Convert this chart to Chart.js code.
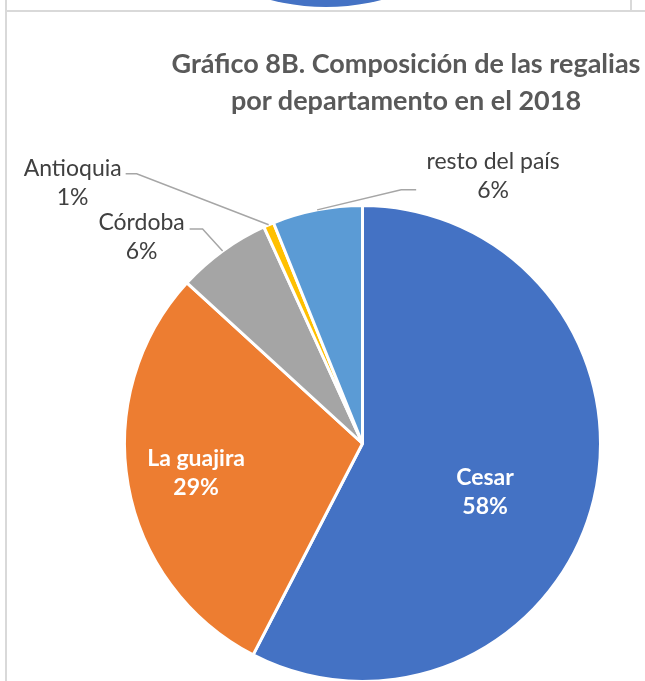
<!DOCTYPE html>
<html>
<head>
<meta charset="utf-8">
<script src="https://cdn.jsdelivr.net/npm/chart.js@4.4.0/dist/chart.umd.min.js"></script>
<style>
    html, body { margin: 0; padding: 0; background: #fff; overflow: hidden; }
    #wrap { position: relative; width: 645px; height: 681px; overflow: hidden; background: #fff; }
    #prevBox { position: absolute; left: 7px; top: 0; width: 623px; height: 10px; overflow: hidden; }
    #prevPie { position: absolute; left: 97px; top: -437px; width: 444px; height: 444px; border-radius: 50%; background: #4472c4; }
    #prevRight { position: absolute; left: 630px; top: 0; width: 2px; height: 11px; background: #d9d9d9; }
    #lineLeft { position: absolute; left: 5px; top: 0; width: 2px; height: 681px; background: #d9d9d9; }
    #lineTop { position: absolute; left: 5px; top: 10px; width: 640px; height: 2px; background: #d9d9d9; }
    #chart { position: absolute; left: 0; top: 0; }
    #title {
        position: absolute; left: 0; top: 44px; width: 812px; text-align: center;
        font-family: Lato, "Open Sans", sans-serif; font-weight: bold; font-size: 27px;
        line-height: 37px; color: #595959; white-space: nowrap;
    }
</style>
</head>
<body>
<div id="wrap">
    <div id="prevBox"><div id="prevPie"></div></div>
    <div id="prevRight"></div>
    <div id="lineLeft"></div>
    <div id="lineTop"></div>
    <canvas id="chart" width="645" height="700"></canvas>
    <div id="title">Gráfico 8B. Composición de las regalias<br>por departamento en el 2018</div>
</div>
<script>
// composición de las regalias 2018, % por departamento
const departamentos = ["Cesar", "La guajira", "Córdoba", "Antioquia", "resto del país"];
const participacion = [57.6, 29.2, 6.4, 0.7, 6.1];
const colores = ["#4472c4", "#ed7d31", "#a5a5a5", "#ffc000", "#5b9bd5"];

// where each label goes, relative to its slice
const labelSetup = [
    { inside: true, r: 0.53, dy: 19 },
    { inside: true, r: 0.71, dy: 0 },
    { inside: false, text: [-81, -14], elbow: [-20, -22], tail: -13 },
    { inside: false, text: [-196, -42], elbow: [-132, -51], tail: -11 },
    { inside: false, text: [176, -34], elbow: [84, -20], tail: 15 },
];

const total = participacion.reduce((a, b) => a + b, 0);

const sliceLabels = {
    id: "sliceLabels",
    afterDatasetsDraw(chart) {
        const ctx = chart.ctx;
        const arcs = chart.getDatasetMeta(0).data;
        ctx.save();
        ctx.textAlign = "center";
        ctx.textBaseline = "middle";
        arcs.forEach((arc, i) => {
            const p = arc.getProps(["x", "y", "startAngle", "endAngle", "outerRadius"], true);
            const mid = (p.startAngle + p.endAngle) / 2;
            const cfg = labelSetup[i];
            const lines = [departamentos[i], Math.round(participacion[i] / total * 100) + "%"];
            let cx, cy;
            if (cfg.inside) {
                cx = p.x + Math.cos(mid) * p.outerRadius * cfg.r;
                cy = p.y + Math.sin(mid) * p.outerRadius * cfg.r + cfg.dy;
                ctx.fillStyle = "#ffffff";
                ctx.font = "bold 23px Lato, 'Open Sans', sans-serif";
            } else {
                const ex = p.x + Math.cos(mid) * p.outerRadius;
                const ey = p.y + Math.sin(mid) * p.outerRadius;
                const bx = ex + cfg.elbow[0];
                const by = ey + cfg.elbow[1];
                ctx.strokeStyle = "#a6a6a6";
                ctx.lineWidth = 1.5;
                ctx.beginPath();
                ctx.moveTo(ex, ey);
                ctx.lineTo(bx, by);
                ctx.lineTo(bx + cfg.tail, by);
                ctx.stroke();
                cx = ex + cfg.text[0];
                cy = ey + cfg.text[1];
                ctx.fillStyle = "#404040";
                ctx.font = "23px Lato, 'Open Sans', sans-serif";
            }
            ctx.fillText(lines[0], cx, cy - 14.5);
            ctx.fillText(lines[1], cx, cy + 14.5);
        });
        ctx.restore();
    }
};

new Chart(document.getElementById("chart"), {
    type: "pie",
    data: {
        labels: departamentos,
        datasets: [{
            data: participacion,
            backgroundColor: colores,
            borderColor: "#ffffff",
            borderWidth: 3,
            hoverBorderWidth: 3,
        }]
    },
    options: {
        responsive: false,
        animation: false,
        layout: { padding: { left: 123, right: 43, top: 204, bottom: 17 } },
        plugins: {
            legend: { display: false },
            tooltip: { enabled: false },
            title: { display: false },
        }
    },
    plugins: [sliceLabels]
});
</script>
</body>
</html>
